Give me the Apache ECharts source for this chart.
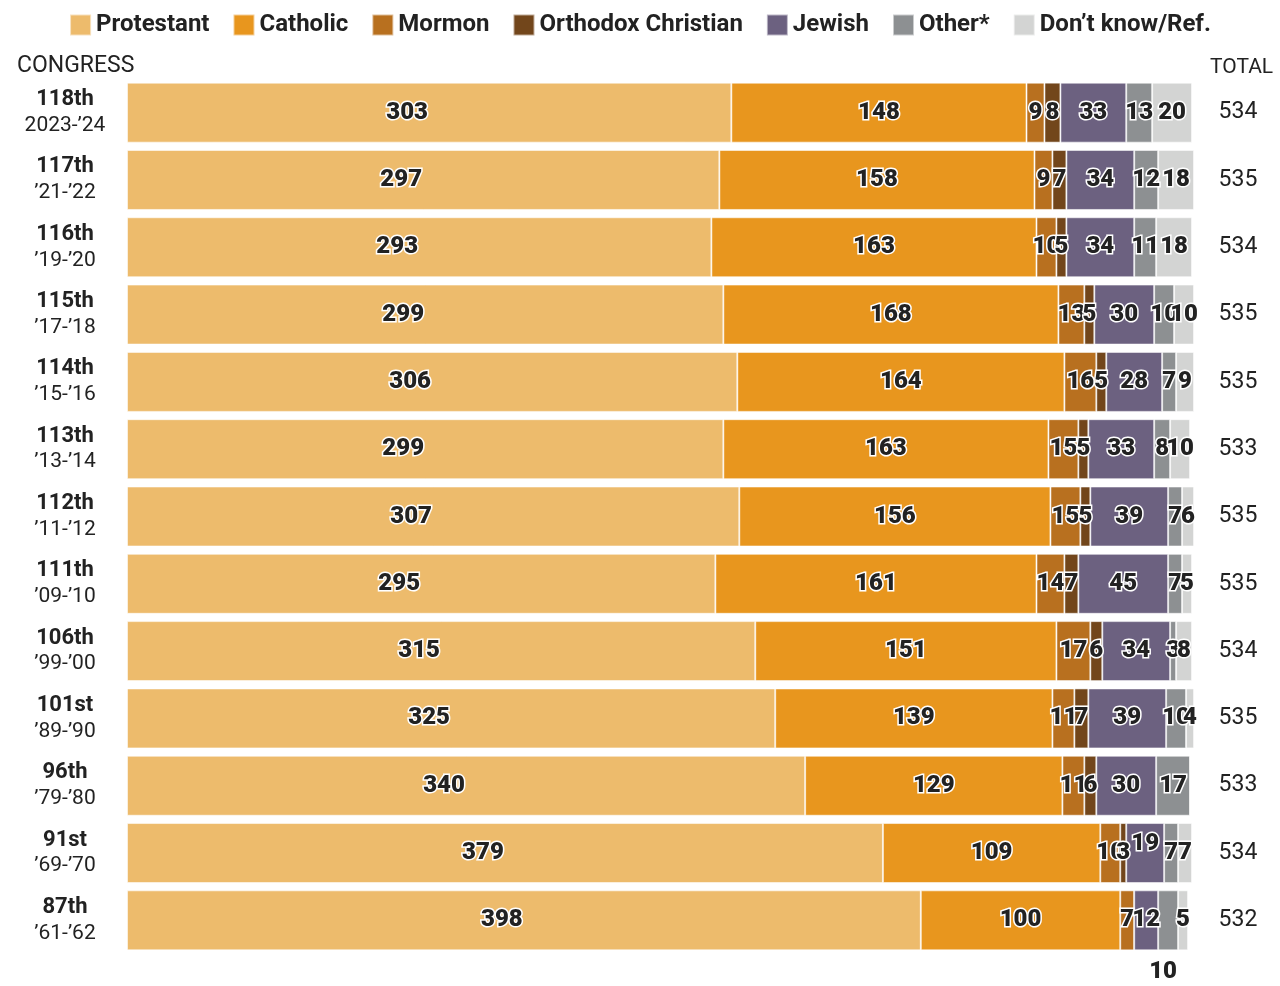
<!DOCTYPE html>
<html>
<head>
<meta charset="utf-8">
<script src="https://cdn.jsdelivr.net/npm/echarts@6/dist/echarts.min.js"></script>
<style>
html,body{margin:0;padding:0;background:#fff;}
#chart{width:1280px;height:986px;}
</style>
</head>
<body>
<div id="chart"></div>
<script>
// congresses, top to bottom
var congress = ['118th','117th','116th','115th','114th','113th','112th','111th','106th','101st','96th','91st','87th'];
var years = ['2023-’24','’21-’22','’19-’20','’17-’18','’15-’16','’13-’14','’11-’12','’09-’10','’99-’00','’89-’90','’79-’80','’69-’70','’61-’62'];
var totals = [534,535,534,535,535,533,535,535,534,535,533,534,532];

var protestant = [303,297,293,299,306,299,307,295,315,325,340,379,398];
var catholic   = [148,158,163,168,164,163,156,161,151,139,129,109,100];
var mormon     = [9,9,10,13,16,15,15,14,17,11,11,10,7];
var orthodox   = [8,7,5,5,5,5,5,7,6,7,6,3,0];
var jewish     = [33,34,34,30,28,33,39,45,34,39,30,19,12];
var other      = [13,12,11,10,7,8,7,7,3,10,17,7,10];
var dontKnow   = [20,18,18,10,9,10,6,5,8,4,0,7,5];

var seriesDefs = [
    {name:'Protestant', data:protestant, color:'#EDBB6C'},
    {name:'Catholic', data:catholic, color:'#E8961E'},
    {name:'Mormon', data:mormon, color:'#B8701F'},
    {name:'Orthodox Christian', data:orthodox, color:'#72461B'},
    {name:'Jewish', data:jewish, color:'#6C6180'},
    {name:'Other*', data:other, color:'#8D9092'},
    {name:'Don’t know/Ref.', data:dontKnow, color:'#D3D4D3'}
];

var series = seriesDefs.map(function(s, si){
    return {
        name: s.name,
        type: 'bar',
        stack: 'all',
        barWidth: 60,
        data: s.data,
        itemStyle: {
            color: s.color,
            borderColor: 'rgba(255,255,255,0.55)',
            borderWidth: 1
        },
        label: {
            show: true,
            position: 'inside',
            formatter: function(p){ return p.value ? p.value : ''; },
            fontFamily: 'Roboto',
            fontWeight: 900,
            fontSize: 24,
            color: '#222',
            textBorderColor: '#fff',
            textBorderWidth: 3
        },
        labelLayout: function(p){
            if (si === 0) return {dx: -22};
            // 87th "Other" label sits under the bar, 91st Jewish label nudged up
            if (si === 5 && p.dataIndex === 12) return {dy: 52, dx: -5};
            if (si === 4 && p.dataIndex === 11) return {dy: -9};
            return {};
        }
    };
});

var option = {
    animation: false,
    color: seriesDefs.map(function(s){ return s.color; }),
    title: [
        {text:'CONGRESS', left:12, top:50, textStyle:{fontFamily:'Roboto', fontWeight:'normal', fontSize:23, color:'#222'}},
        {text:'TOTAL', left:1205, top:52, textStyle:{fontFamily:'Roboto', fontWeight:'normal', fontSize:21, color:'#222'}}
    ],
    legend: {
        top: 8,
        left: 'center',
        icon: 'rect',
        itemWidth: 21,
        itemHeight: 21,
        itemGap: 23,
        textStyle: {fontFamily:'Roboto', fontWeight:'bold', fontSize:24, color:'#222'}
    },
    grid: {
        left: 127,
        right: 68,
        top: 79,
        bottom: 32
    },
    xAxis: {
        type: 'value',
        min: 0,
        max: 544,
        show: false
    },
    yAxis: [
        {
            type: 'category',
            inverse: true,
            data: congress,
            axisLine: {show:false},
            axisTick: {show:false},
            axisLabel: {
                margin: 62,
                align: 'center',
                formatter: function(v, i){ return '{a|' + v + '}\n{b|' + years[i] + '}'; },
                rich: {
                    a: {fontFamily:'Roboto', fontWeight:'bold', fontSize:22, color:'#222', lineHeight:26, align:'center'},
                    b: {fontFamily:'Roboto', fontWeight:'normal', fontSize:21, color:'#222', lineHeight:26, align:'center'}
                }
            }
        },
        {
            type: 'category',
            inverse: true,
            position: 'right',
            data: totals,
            axisLine: {show:false},
            axisTick: {show:false},
            axisLabel: {
                margin: 26,
                align: 'center',
                fontFamily: 'Roboto',
                fontSize: 23,
                color: '#222'
            }
        }
    ],
    series: series
};

var chart = echarts.init(document.getElementById('chart'));
chart.setOption(option);
</script>
</body>
</html>
